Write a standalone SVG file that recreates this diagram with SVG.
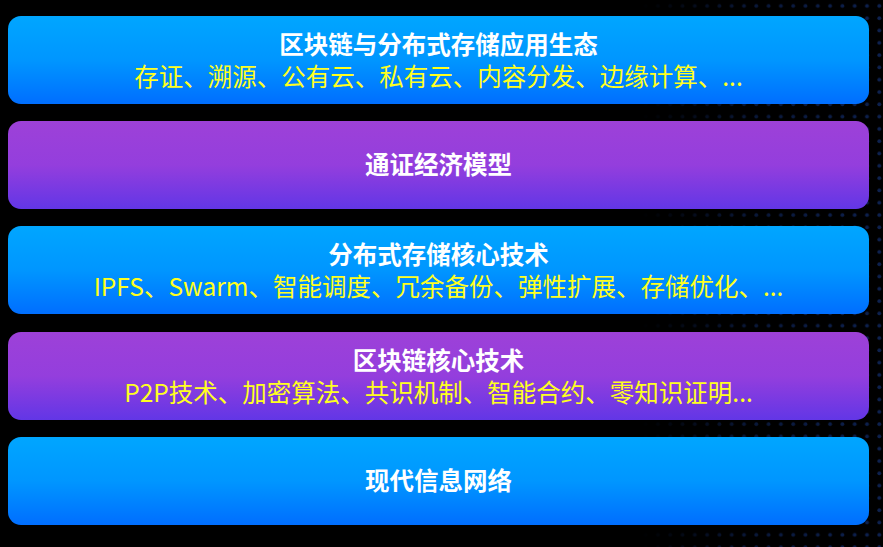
<svg xmlns="http://www.w3.org/2000/svg" width="883" height="547" viewBox="0 0 883 547">
<defs>
<linearGradient id="gBlue" x1="0" y1="0" x2="0" y2="1">
<stop offset="0" stop-color="#00A6FF"/>
<stop offset="0.5" stop-color="#0096FF"/>
<stop offset="1" stop-color="#006EFF"/>
</linearGradient>
<linearGradient id="gPurple" x1="0" y1="0" x2="0" y2="1">
<stop offset="0" stop-color="#9D41D8"/>
<stop offset="0.5" stop-color="#943EDD"/>
<stop offset="1" stop-color="#6236E6"/>
</linearGradient>
<pattern id="dots" x="0" y="0" width="12.3" height="12.3" patternUnits="userSpaceOnUse">
<circle cx="6" cy="6" r="1.9" fill="#0d2150"/>
</pattern>
<linearGradient id="fade" x1="0" y1="0" x2="1" y2="0">
<stop offset="0" stop-color="#fff" stop-opacity="0"/>
<stop offset="0.45" stop-color="#fff" stop-opacity="0.7"/>
<stop offset="1" stop-color="#fff" stop-opacity="1"/>
</linearGradient>
<mask id="dotMask" maskUnits="userSpaceOnUse" x="600" y="0" width="283" height="547">
<rect x="640" y="0" width="243" height="547" fill="url(#fade)"/>
</mask>
<style>
.bar{stroke:none}
.title{font-family:"Noto Sans CJK SC","Noto Sans",sans-serif;font-weight:700;font-size:24.5px;fill:#ffffff;text-anchor:middle}
.sub{font-family:"Noto Sans CJK SC","Noto Sans",sans-serif;font-weight:400;font-size:24.5px;fill:#FFFF1E;text-anchor:middle}
</style>
</defs>
<rect x="0" y="0" width="883" height="547" fill="#000000"/>
<rect x="600" y="0" width="283" height="547" fill="url(#dots)" mask="url(#dotMask)"/>

<g id="node-app">
<rect class="bar" x="8" y="16" width="861" height="88" rx="13" fill="url(#gBlue)"/>
<text class="title" x="438.5" y="54">区块链与分布式存储应用生态</text>
<text class="sub" x="438.5" y="86">存证、溯源、公有云、私有云、内容分发、边缘计算、...</text>
</g>

<g id="node-token">
<rect class="bar" x="8" y="121" width="861" height="88" rx="13" fill="url(#gPurple)"/>
<text class="title" x="438.5" y="174">通证经济模型</text>
</g>

<g id="node-storage">
<rect class="bar" x="8" y="226" width="861" height="88" rx="13" fill="url(#gBlue)"/>
<text class="title" x="438.5" y="264">分布式存储核心技术</text>
<text class="sub" x="438.5" y="295.5">IPFS、Swarm、智能调度、冗余备份、弹性扩展、存储优化、...</text>
</g>

<g id="node-chain">
<rect class="bar" x="8" y="332" width="861" height="88" rx="13" fill="url(#gPurple)"/>
<text class="title" x="438.5" y="369.5">区块链核心技术</text>
<text class="sub" x="438.5" y="401.5">P2P技术、加密算法、共识机制、智能合约、零知识证明...</text>
</g>

<g id="node-network">
<rect class="bar" x="8" y="437" width="861" height="88" rx="13" fill="url(#gBlue)"/>
<text class="title" x="438.5" y="490">现代信息网络</text>
</g>

<g id="connectors"></g>
</svg>
